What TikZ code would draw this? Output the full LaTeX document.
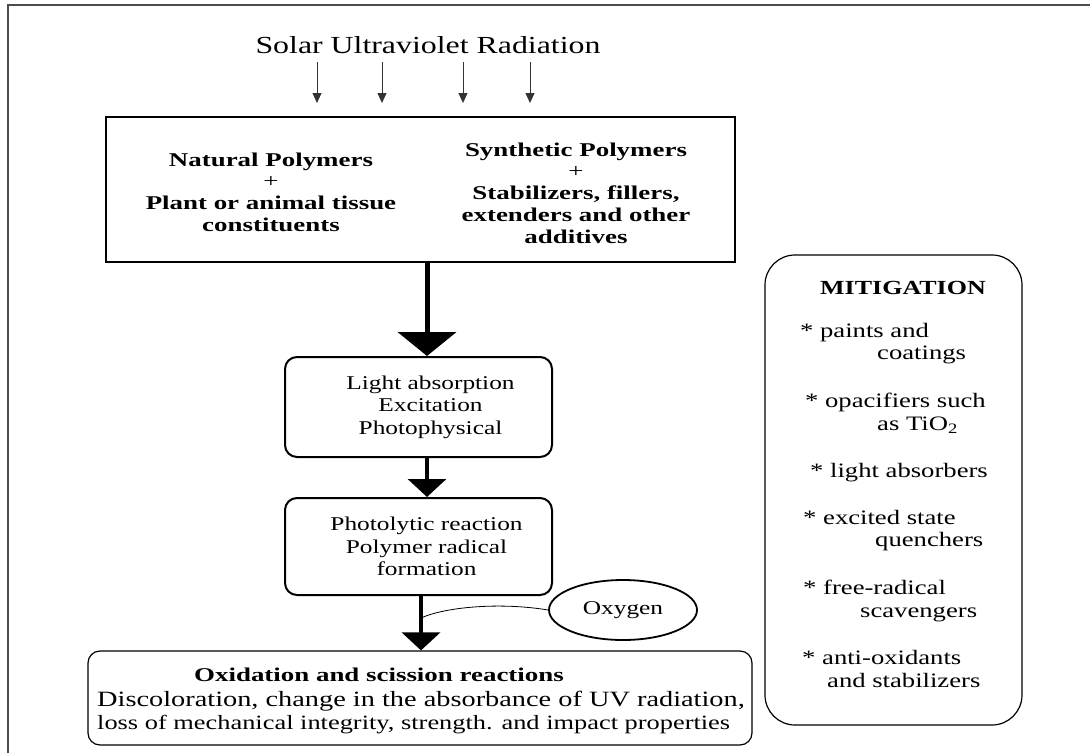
\documentclass[tikz,border=0pt]{standalone}
\usepackage{fontspec}
\setmainfont{Liberation Serif}[FakeStretch=1.3]
\newfontfamily\widebold{Liberation Serif}[FakeStretch=1.38]
\usetikzlibrary{arrows.meta,shapes.geometric,positioning}

\begin{document}
\begin{tikzpicture}[x=1pt,y=-1pt,
    frame/.style={line width=1.6pt,black!70},
    plainbox/.style={draw,line width=2.4pt,inner sep=0pt},
    stepbox/.style={draw,line width=2pt,rounded corners=12pt,inner sep=0pt},
    steptext/.style={align=center,inner sep=0pt,font=\fontsize{19.5}{22.5}\selectfont},
    thinbox/.style={draw,line width=1.2pt,rounded corners=12pt,inner sep=0pt},
    boldtext/.style={font=\widebold\bfseries\fontsize{19.5}{21.7}\selectfont,align=center,inner sep=0pt},
    mtext/.style={font=\fontsize{20.5}{22}\selectfont,inner sep=0pt},
    uvray/.style={line width=0.8pt,black!80,-{Triangle[width=9pt,length=10pt]}},
    bigarrow/.style={line width=5pt,-{Triangle[width=58pt,length=24pt]}},
    midarrow/.style={line width=3.5pt,-{Triangle[width=38pt,length=18pt]}}]

  \useasboundingbox (0,0) rectangle (1090,753);
  \draw[frame] (8,753) -- (8,5) -- (1090,5);

  % source
  \node[font=\fontsize{24.5}{27}\selectfont,inner sep=0pt] (sun) at (428,45) {Solar Ultraviolet Radiation};
  \foreach \x in {317,382,463,530}
    \draw[uvray] (\x,62) -- (\x,103);

  % polymer box
  \node[plainbox,minimum width=629pt,minimum height=145pt] (top) at (420.5,189.5) {};
  \node[boldtext] (nat) at (271,192) {Natural Polymers\\{\mdseries +}\\Plant or animal tissue\\constituents};
  \node[boldtext] (syn) at (576,193) {Synthetic Polymers\\{\mdseries +}\\Stabilizers, fillers,\\extenders and other\\additives};

  % steps
  \node[stepbox,minimum width=267pt,minimum height=100pt] (light) at (418.5,407) {};
  \node[steptext] (lighttxt) at ([xshift=12pt]light.center) {Light absorption\\Excitation\\Photophysical};
  \node[stepbox,minimum width=267pt,minimum height=97pt] (photo) at (418.5,546.5) {};
  \node[steptext] (phototxt) at ([xshift=8pt]photo.center) {Photolytic reaction\\Polymer radical\\formation};
  \node[thinbox,minimum width=664pt,minimum height=94pt] (oxid) at (420,698) {};
  \node[boldtext,font=\widebold\bfseries\fontsize{19.5}{22}\selectfont,anchor=mid west] (oxhead) at (194,679) {Oxidation and scission reactions};
  \node[mtext,font=\fontsize{21.8}{23}\selectfont,align=left,anchor=north west] (oxtext) at (97,691)
    {Discoloration, change in the absorbance of UV radiation,\\
    {\fontsize{20.3}{23}\selectfont loss of mechanical integrity, strength. and impact properties}};
  \node[ellipse,draw,line width=1.8pt,minimum width=148pt,minimum height=60pt,mtext,
    font=\fontsize{19.5}{22}\selectfont] (oxy) at (623,610) {Oxygen};

  \coordinate (axa) at (427,0);
  \coordinate (axb) at (421,0);
  \coordinate (join) at (421,618);
  \draw[bigarrow] (axa |- top.south) -- (axa |- light.north);
  \draw[midarrow] (axa |- light.south) -- (axa |- photo.north);
  \draw[midarrow] (axb |- photo.south) -- (axb |- oxid.north);
  \draw[line width=0.8pt] (oxy.west) .. controls (500,602) and (445,607) .. (join);

  % mitigation
  \node[thinbox,rounded corners=30pt,minimum width=257pt,minimum height=470pt] (mitig) at (893.5,490) {};
  \node[boldtext,font=\bfseries\fontsize{20}{22}\selectfont] (mhead) at (903,288) {MITIGATION};
  \foreach \x/\y/\t [count=\i] in {800/335/{* paints and},877/357/{coatings},
      805/405/{* opacifiers such},877/428/{as TiO\textsubscript{2}},
      810/475/{* light absorbers},
      803/522/{* excited state},875/544/{quenchers},
      803/592/{* free-radical},860/615/{scavengers},
      802/662/{* anti-oxidants},827/685/{and stabilizers}}
    \node[mtext,anchor=mid west] (m\i) at (\x,\y) {\t};
\end{tikzpicture}
\end{document}
